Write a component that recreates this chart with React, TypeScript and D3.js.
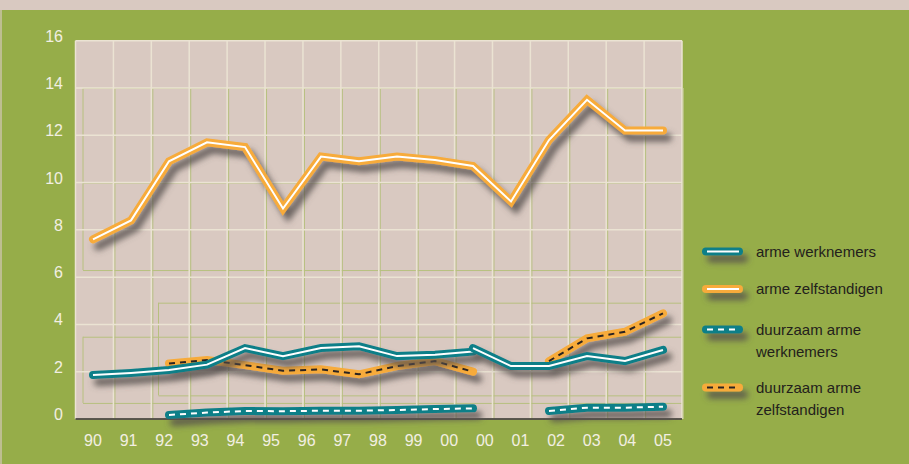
import React from "react";
import * as d3 from "d3";

const years = [1990,1991,1992,1993,1994,1995,1996,1997,1998,1999,2000,2001,2002,2003,2004,2005];
const xLabels = ["90","91","92","93","94","95","96","97","98","99","00","00","01","02","03","04","05"];
const yTicks = [0,2,4,6,8,10,12,14,16];

const armeWerknemersA: (number|null)[] = [1.86,1.95,2.07,2.3,3.0,2.66,3.0,3.08,2.66,2.72,2.85,null,null,null,null,null];
const armeWerknemersB: (number|null)[] = [null,null,null,null,null,null,null,null,null,null,3.0,2.24,2.24,2.66,2.45,2.92];
const armeZelfstandigen: (number|null)[] = [7.6,8.4,10.9,11.7,11.5,8.9,11.1,10.9,11.1,10.95,10.7,9.2,11.8,13.5,12.2,12.2];
const duurzaamWerknemers: (number|null)[] = [null,null,0.17,0.27,0.34,0.33,0.35,0.35,0.38,0.42,0.45,null,0.34,0.48,0.48,0.52];
const duurzaamZelfstandigen: (number|null)[] = [null,null,2.35,2.49,2.28,2.04,2.1,1.89,2.24,2.45,2.0,null,2.45,3.41,3.69,4.47];

const legendItems = [
  { lines: ["arme werknemers"], color: "teal", dashed: false },
  { lines: ["arme zelfstandigen"], color: "orange", dashed: false },
  { lines: ["duurzaam arme", "werknemers"], color: "teal", dashed: true },
  { lines: ["duurzaam arme", "zelfstandigen"], color: "orange", dashed: true },
];

const W = 909, H = 464;
const GREEN = "#96ad49";
const BEIGE = "#d9c9c1";
const TEAL = "#0f7f88";
const ORANGE = "#f7ab3a";
const GRID_LIGHT = "#ebe3d3";
const GRID_GREEN = "#b7c07f";
const LABEL = "#f2efe2";
const FONT = "'Liberation Sans', Arial, sans-serif";

const plot = { left: 75.5, right: 682, top: 40.7, bottom: 419 };

export default function App() {
  const x = d3.scalePoint<number>().domain(years).range([93, 663]);
  const xLab = d3.scalePoint<number>().domain(xLabels.map((_, i) => i)).range([93, 663]);
  const y = d3.scaleLinear().domain([0, 16]).range([plot.bottom, plot.top]);
  const col = d3.scaleLinear().domain([0, 16]).range([plot.left, plot.right]);

  const mkLine = (vals: (number|null)[]) =>
    d3.line<number>()
      .defined((_, i) => vals[i] != null)
      .x((_, i) => x(years[i]) as number)
      .y((_, i) => y(vals[i] as number))(years.map((_, i) => i)) || "";

  const series = [
    { vals: duurzaamZelfstandigen, color: ORANGE, dashed: true, inner: "#2a2420" },
    { vals: armeWerknemersA, color: TEAL, dashed: false, inner: "#ffffff" },
    { vals: armeWerknemersB, color: TEAL, dashed: false, inner: "#ffffff" },
    { vals: armeZelfstandigen, color: ORANGE, dashed: false, inner: "#ffffff" },
    { vals: duurzaamWerknemers, color: TEAL, dashed: true, inner: "#ffffff" },
  ];

  const greenH = [14, 10, 6.3, 4.92, 3.48, 1.0, 0.68];

  return (
    <svg width={W} height={H} style={{ position: "absolute", left: 0, top: 0 }}>
      <defs>
        <filter id="sh" filterUnits="userSpaceOnUse" x={0} y={0} width={W} height={H}>
          <feDropShadow dx="5" dy="7" stdDeviation="3.2" floodColor="#57504e" floodOpacity="0.85" />
        </filter>
      </defs>
      <rect x={0} y={0} width={W} height={H} fill={GREEN} />
      <rect x={0} y={0} width={W} height={10} fill={BEIGE} />
      <rect x={0} y={0} width={2} height={H} fill={BEIGE} opacity={0.6} />

      <rect x={plot.left} y={plot.top} width={plot.right - plot.left} height={plot.bottom - plot.top} fill={BEIGE} />

      {/* green decorative grid */}
      {d3.range(1, 17).map(i => (
        <line key={"gv" + i} x1={col(i) + 1.5} x2={col(i) + 1.5} y1={y(14)} y2={plot.bottom} stroke={GRID_GREEN} strokeWidth={1} />
      ))}
      <line x1={83} x2={83} y1={y(14)} y2={y(6.3)} stroke={GRID_GREEN} strokeWidth={1} />
      <line x1={83} x2={83} y1={y(3.48)} y2={y(0.68)} stroke={GRID_GREEN} strokeWidth={1} />
      <line x1={158.5} x2={158.5} y1={y(4.92)} y2={y(1.0)} stroke={GRID_GREEN} strokeWidth={1} />
      {greenH.map(v => (
        <line key={"gh" + v} x1={v === 4.92 || v === 1.0 ? 158.5 : 83} x2={plot.right} y1={y(v) + 0.5} y2={y(v) + 0.5} stroke={GRID_GREEN} strokeWidth={1} />
      ))}

      {/* light grid */}
      {d3.range(0, 17).map(i => (
        <line key={"v" + i} x1={col(i)} x2={col(i)} y1={plot.top} y2={plot.bottom} stroke={GRID_LIGHT} strokeWidth={1.5} />
      ))}
      {yTicks.map(t => (
        <line key={"h" + t} x1={plot.left} x2={plot.right} y1={y(t)} y2={y(t)} stroke={GRID_LIGHT} strokeWidth={1.5} />
      ))}
      <line x1={plot.left} x2={plot.right} y1={plot.bottom} y2={plot.bottom} stroke="#2d2a26" strokeWidth={1.5} />

      {/* y labels */}
      {yTicks.map(t => (
        <text key={"yl" + t} x={63} y={y(t) + 1} textAnchor="end" fontFamily={FONT} fontSize={16} fill={LABEL}>{t}</text>
      ))}
      {/* x labels */}
      {xLabels.map((l, i) => (
        <text key={"xl" + i} x={xLab(i) as number} y={446} textAnchor="middle" fontFamily={FONT} fontSize={16} fill={LABEL}>{l}</text>
      ))}

      {/* series */}
      {series.map((s, k) => {
        const d = mkLine(s.vals);
        return (
          <g key={"s" + k} filter="url(#sh)">
            <path d={d} fill="none" stroke={s.color} strokeWidth={8} strokeLinejoin="miter" strokeLinecap="round" />
            <path d={d} fill="none" stroke={s.inner} strokeWidth={2} strokeLinejoin="miter" strokeDasharray={s.dashed ? "6 5" : undefined} />
          </g>
        );
      })}

      {/* legend */}
      {legendItems.map((it, i) => {
        const cy = [251.5, 289, 329.5, 387.5][i];
        const c = it.color === "teal" ? TEAL : ORANGE;
        const inner = it.dashed && it.color === "orange" ? "#2a2420" : "#ffffff";
        return (
          <g key={"lg" + i}>
            <g filter="url(#sh)">
              <line x1={706} x2={739} y1={cy} y2={cy} stroke={c} strokeWidth={8} strokeLinecap="round" />
              <line x1={707} x2={739} y1={cy} y2={cy} stroke={inner} strokeWidth={2} strokeDasharray={it.dashed ? "6 5" : undefined} />
            </g>
            {it.lines.map((ln, j) => (
              <text key={j} x={756} y={cy + 5 + j * 22} fontFamily={FONT} fontSize={15} fill="#23211c">{ln}</text>
            ))}
          </g>
        );
      })}
    </svg>
  );
}
